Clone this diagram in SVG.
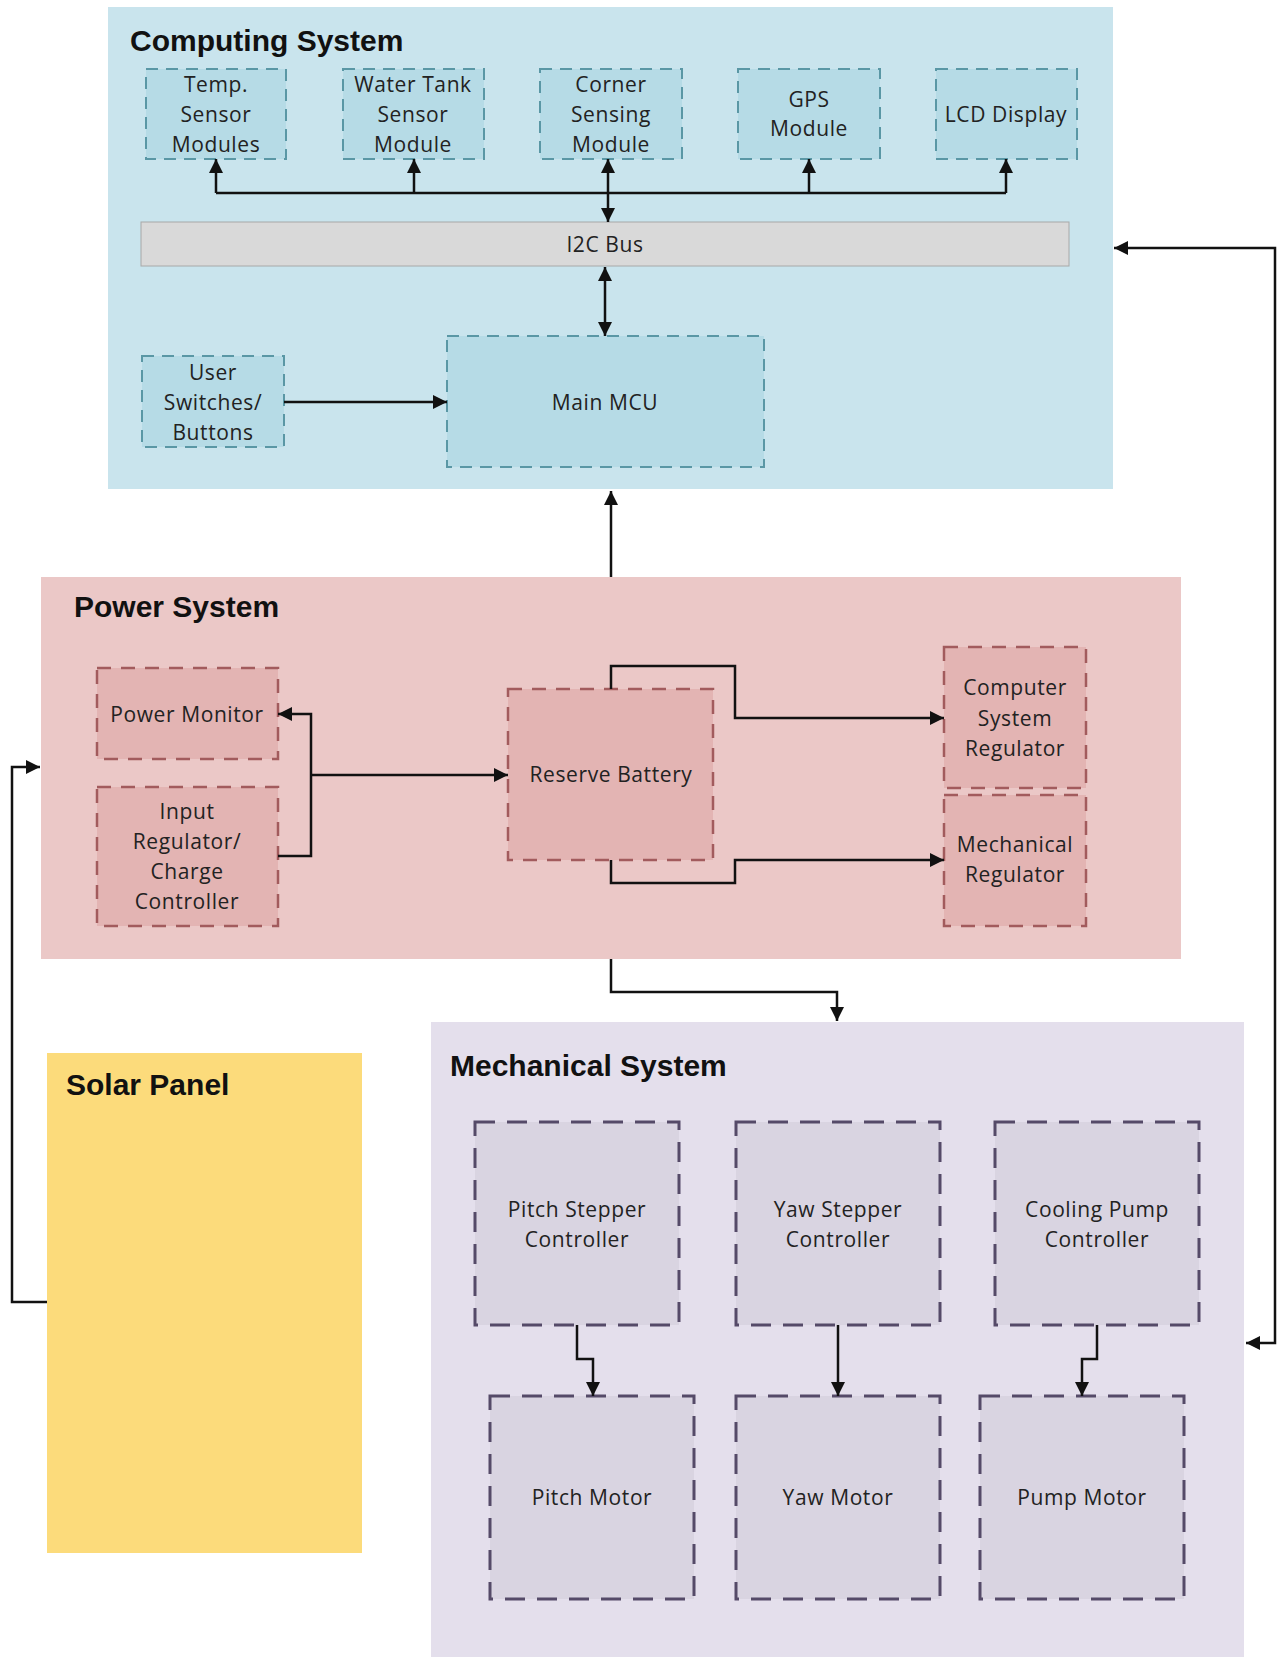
<svg xmlns="http://www.w3.org/2000/svg" width="1278" height="1657" viewBox="0 0 1278 1657">
<defs>
<style>
.title{font-family:"Liberation Sans",Arial,sans-serif;font-weight:bold;font-size:30px;fill:#111}
.t{font-family:"Open Sans","Liberation Sans",sans-serif;font-size:21px;letter-spacing:0.6px;fill:#222;text-anchor:middle}
.cb{fill:#b6dbe6;stroke:#5a97a5;stroke-width:2;stroke-dasharray:12 8}
.pb{fill:#e3b4b3;stroke:#a25b5d;stroke-width:2.5;stroke-dasharray:14 10}
.mb{fill:#d9d4e1;stroke:#554a68;stroke-width:3;stroke-dasharray:20 12}
.c{fill:none;stroke:#111;stroke-width:2.5}
</style>
<marker id="ah" viewBox="0 0 14 14" refX="14" refY="7" markerWidth="14" markerHeight="14" markerUnits="userSpaceOnUse" orient="auto-start-reverse">
<path d="M0,0 L14,7 L0,14 Z" fill="#111"/>
</marker>
</defs>
<rect width="1278" height="1657" fill="#ffffff"/>

<g id="computing-system">
<rect x="108" y="7" width="1005" height="482" fill="#c9e4ed"/>
<text class="title" x="130" y="51">Computing System</text>
</g>
<g id="power-system">
<rect x="41" y="577" width="1140" height="382" fill="#ebc8c7"/>
<text class="title" x="74" y="617">Power System</text>
</g>
<g id="mechanical-system">
<rect x="431" y="1022" width="813" height="635" fill="#e4dfec"/>
<text class="title" x="450" y="1076">Mechanical System</text>
</g>
<g id="solar-panel">
<rect x="47" y="1053" width="315" height="500" fill="#fcdb7b"/>
<text class="title" x="66" y="1095">Solar Panel</text>
</g>

<g id="temp-sensor">
<rect class="cb" x="146" y="69" width="140" height="90"/>
<text class="t" x="216" y="92">Temp.</text>
<text class="t" x="216" y="122">Sensor</text>
<text class="t" x="216" y="152">Modules</text>
</g>
<g id="water-tank">
<rect class="cb" x="343" y="69" width="141" height="90"/>
<text class="t" x="413" y="92">Water Tank</text>
<text class="t" x="413" y="122">Sensor</text>
<text class="t" x="413" y="152">Module</text>
</g>
<g id="corner-sensing">
<rect class="cb" x="540" y="69" width="142" height="90"/>
<text class="t" x="611" y="92">Corner</text>
<text class="t" x="611" y="122">Sensing</text>
<text class="t" x="611" y="152">Module</text>
</g>
<g id="gps">
<rect class="cb" x="738" y="69" width="142" height="90"/>
<text class="t" x="809" y="107">GPS</text>
<text class="t" x="809" y="136">Module</text>
</g>
<g id="lcd">
<rect class="cb" x="936" y="69" width="141" height="90"/>
<text class="t" x="1006" y="122">LCD Display</text>
</g>
<g id="i2c-bus">
<rect x="141" y="222" width="928" height="44" fill="#d9d9d9" stroke="#a8a8a8" stroke-width="1"/>
<text class="t" x="605" y="252">I2C Bus</text>
</g>
<g id="user-switches">
<rect class="cb" x="142" y="356" width="142" height="91"/>
<text class="t" x="213" y="380">User</text>
<text class="t" x="213" y="410">Switches/</text>
<text class="t" x="213" y="440">Buttons</text>
</g>
<g id="main-mcu">
<rect class="cb" x="447" y="336" width="317" height="131"/>
<text class="t" x="605" y="410">Main MCU</text>
</g>

<g id="power-monitor">
<rect class="pb" x="97" y="668" width="181" height="91"/>
<text class="t" x="187" y="722">Power Monitor</text>
</g>
<g id="input-regulator">
<rect class="pb" x="97" y="787" width="181" height="139"/>
<text class="t" x="187" y="819">Input</text>
<text class="t" x="187" y="849">Regulator/</text>
<text class="t" x="187" y="879">Charge</text>
<text class="t" x="187" y="909">Controller</text>
</g>
<g id="reserve-battery">
<rect class="pb" x="508" y="689" width="205" height="171"/>
<text class="t" x="611" y="782">Reserve Battery</text>
</g>
<g id="computer-system-regulator">
<rect class="pb" x="944" y="647" width="142" height="141"/>
<text class="t" x="1015" y="695">Computer</text>
<text class="t" x="1015" y="726">System</text>
<text class="t" x="1015" y="756">Regulator</text>
</g>
<g id="mechanical-regulator">
<rect class="pb" x="944" y="795" width="142" height="131"/>
<text class="t" x="1015" y="852">Mechanical</text>
<text class="t" x="1015" y="882">Regulator</text>
</g>

<g id="pitch-stepper">
<rect class="mb" x="475" y="1122" width="204" height="203"/>
<text class="t" x="577" y="1217">Pitch Stepper</text>
<text class="t" x="577" y="1247">Controller</text>
</g>
<g id="yaw-stepper">
<rect class="mb" x="736" y="1122" width="204" height="203"/>
<text class="t" x="838" y="1217">Yaw Stepper</text>
<text class="t" x="838" y="1247">Controller</text>
</g>
<g id="cooling-pump">
<rect class="mb" x="995" y="1122" width="204" height="203"/>
<text class="t" x="1097" y="1217">Cooling Pump</text>
<text class="t" x="1097" y="1247">Controller</text>
</g>
<g id="pitch-motor">
<rect class="mb" x="490" y="1396" width="204" height="203"/>
<text class="t" x="592" y="1505">Pitch Motor</text>
</g>
<g id="yaw-motor">
<rect class="mb" x="736" y="1396" width="204" height="203"/>
<text class="t" x="838" y="1505">Yaw Motor</text>
</g>
<g id="pump-motor">
<rect class="mb" x="980" y="1396" width="204" height="203"/>
<text class="t" x="1082" y="1505">Pump Motor</text>
</g>

<g id="connectors">
<path class="c" d="M216,193 H1006"/>
<path class="c" d="M216,193 V159" marker-end="url(#ah)"/>
<path class="c" d="M414,193 V159" marker-end="url(#ah)"/>
<path class="c" d="M608,193 V159" marker-end="url(#ah)"/>
<path class="c" d="M809,193 V159" marker-end="url(#ah)"/>
<path class="c" d="M1006,193 V159" marker-end="url(#ah)"/>
<path class="c" d="M608,193 V222" marker-end="url(#ah)"/>
<path class="c" d="M605,267 V336" marker-start="url(#ah)" marker-end="url(#ah)"/>
<path class="c" d="M284,402 H447" marker-end="url(#ah)"/>
<path class="c" d="M611,577 V491" marker-end="url(#ah)"/>
<path class="c" d="M1114,248 H1275 V1343 H1246" marker-start="url(#ah)" marker-end="url(#ah)"/>
<path class="c" d="M278,856 H311 V714 H278" marker-end="url(#ah)"/>
<path class="c" d="M311,775 H508" marker-end="url(#ah)"/>
<path class="c" d="M611,689 V666 H735 V718 H944" marker-end="url(#ah)"/>
<path class="c" d="M611,860 V883 H735 V860 H944" marker-end="url(#ah)"/>
<path class="c" d="M611,959 V992 H837 V1021" marker-end="url(#ah)"/>
<path class="c" d="M47,1302 H12 V767 H40" marker-end="url(#ah)"/>
<path class="c" d="M577,1325 V1359 H593 V1396" marker-end="url(#ah)"/>
<path class="c" d="M838,1325 V1396" marker-end="url(#ah)"/>
<path class="c" d="M1097,1325 V1359 H1082 V1396" marker-end="url(#ah)"/>
</g>
</svg>
